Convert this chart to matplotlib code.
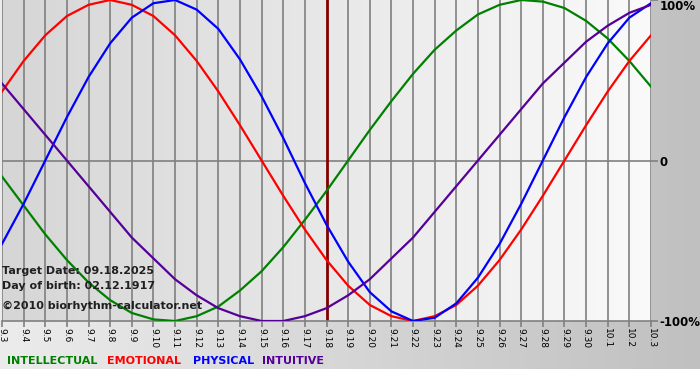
import numpy as np
import matplotlib.pyplot as plt
from matplotlib.colors import LinearSegmentedColormap

# days shown on the x axis
dates = ["9.3", "9.4", "9.5", "9.6", "9.7", "9.8", "9.9", "9.10", "9.11", "9.12",
         "9.13", "9.14", "9.15", "9.16", "9.17", "9.18", "9.19", "9.20", "9.21",
         "9.22", "9.23", "9.24", "9.25", "9.26", "9.27", "9.28", "9.29", "9.30",
         "10.1", "10.2", "10.3"]
target_date = "9.18"

# cycle values per day (1 = 100%)
intellectual = [-0.10, -0.28, -0.46, -0.62, -0.76, -0.87, -0.95, -0.99, -1.00, -0.97,
                -0.91, -0.81, -0.69, -0.54, -0.37, -0.19, 0.00, 0.19, 0.37, 0.54,
                0.69, 0.81, 0.91, 0.97, 1.00, 0.99, 0.95, 0.87, 0.76, 0.62, 0.46]
emotional = [0.43, 0.62, 0.78, 0.90, 0.97, 1.00, 0.97, 0.90, 0.78, 0.62,
             0.43, 0.22, 0.00, -0.22, -0.43, -0.62, -0.78, -0.90, -0.97, -1.00,
             -0.97, -0.90, -0.78, -0.62, -0.43, -0.22, 0.00, 0.22, 0.43, 0.62, 0.78]
physical = [-0.52, -0.27, 0.00, 0.27, 0.52, 0.73, 0.89, 0.98, 1.00, 0.94,
            0.82, 0.63, 0.40, 0.14, -0.14, -0.40, -0.63, -0.82, -0.94, -1.00,
            -0.98, -0.89, -0.73, -0.52, -0.27, 0.00, 0.27, 0.52, 0.73, 0.89, 0.98]
intuitive = [0.48, 0.32, 0.16, 0.00, -0.16, -0.32, -0.48, -0.61, -0.74, -0.84,
             -0.92, -0.97, -1.00, -1.00, -0.97, -0.92, -0.84, -0.74, -0.61, -0.48,
             -0.32, -0.16, 0.00, 0.16, 0.32, 0.48, 0.61, 0.74, 0.84, 0.92, 0.97]

series = [("INTELLECTUAL", intellectual, "#008000"),
          ("EMOTIONAL", emotional, "#ff0000"),
          ("PHYSICAL", physical, "#0000ff"),
          ("INTUITIVE", intuitive, "#550099")]

W, H = 700, 380
fig = plt.figure(figsize=(W / 100, H / 100), dpi=100)
fig.patch.set_facecolor("white")

# grey gradient behind everything
bg = fig.add_axes([0, 11 / H, 1, 1 - 11 / H])
bg_cmap = LinearSegmentedColormap.from_list("bg", ["#ececec", "#c0c0c0"])
bg.imshow(np.linspace(0, 1, 256).reshape(1, -1), cmap=bg_cmap, aspect="auto",
          extent=[0, 1, 0, 1])
bg.axis("off")

# plot area
ax = fig.add_axes([2 / W, 1 - 321 / H, 649 / W, 321 / H])
x = np.arange(len(dates))
plot_cmap = LinearSegmentedColormap.from_list("pa", ["#d6d6d6", "#fafafa"])
ax.imshow(np.linspace(0, 1, 256).reshape(1, -1), cmap=plot_cmap, aspect="auto",
          extent=[x[0], x[-1], -1, 1], zorder=0)

for xi, d in zip(x, dates):
    if d != target_date:
        ax.axvline(xi, color="#808080", lw=1.2, zorder=1)
ax.axhline(0, color="#808080", lw=1.2, zorder=1)
ax.axvline(dates.index(target_date), color="#800000", lw=2, zorder=2)

for name, vals, col in series:
    ax.plot(x, vals, color=col, lw=1.6, zorder=3, solid_joinstyle="round")

ax.set_xlim(x[0], x[-1])
ax.set_ylim(-1.0, 1.0)
for s in ["left", "right", "top"]:
    ax.spines[s].set_visible(False)
ax.spines["bottom"].set_color("#808080")
ax.spines["bottom"].set_linewidth(1.2)

ax.set_xticks(x)
ax.set_xticklabels(dates, rotation=-90, fontsize=6.5)
ax.tick_params(axis="x", length=4, width=1.2, color="#808080", pad=1)
ax.yaxis.tick_right()
ax.set_yticks([-1, 0, 1])
ax.set_yticklabels(["-100%", "0", "100%"], fontsize=8.5, fontweight="bold")
ax.tick_params(axis="y", length=5, width=1.2, color="#808080", pad=1)
ax.get_yticklabels()[2].set_va("top")

# info text
info = ["Target Date: 09.18.2025", "Day of birth: 02.12.1917",
        "©2010 biorhythm-calculator.net"]
for txt, yp in zip(info, [271, 286, 306]):
    fig.text(2 / W, 1 - yp / H, txt, fontsize=8, fontweight="bold",
             color="#202020", va="center", ha="left")

# legend row
for (name, vals, col), xp in zip(series, [7, 107, 193, 262]):
    fig.text(xp / W, 1 - 361 / H, name, fontsize=8, fontweight="bold",
             color=col, va="center", ha="left")

fig.savefig("out.png", dpi=100)
